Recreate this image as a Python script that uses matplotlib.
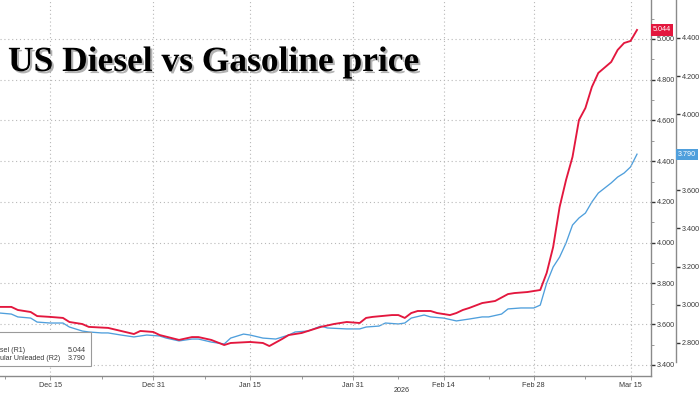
import matplotlib
matplotlib.use("Agg")
import matplotlib.pyplot as plt
import matplotlib.dates as mdates
import matplotlib.patheffects as pe
from matplotlib.patches import Rectangle
from matplotlib.ticker import FixedLocator, FuncFormatter, MultipleLocator
import numpy as np
import pandas as pd

# ---------------- data ----------------
diesel_dates = ["2025-12-07", "2025-12-09", "2025-12-10", "2025-12-12", "2025-12-13", "2025-12-15",
                "2025-12-17", "2025-12-18", "2025-12-20", "2025-12-21", "2025-12-24", "2025-12-26",
                "2025-12-28", "2025-12-29", "2025-12-31", "2026-01-01", "2026-01-04", "2026-01-06",
                "2026-01-07", "2026-01-09", "2026-01-11", "2026-01-12", "2026-01-15", "2026-01-17",
                "2026-01-18", "2026-01-20", "2026-01-21", "2026-01-23", "2026-01-24", "2026-01-26",
                "2026-01-28", "2026-01-30", "2026-02-01", "2026-02-02", "2026-02-03", "2026-02-06",
                "2026-02-07", "2026-02-08", "2026-02-09", "2026-02-10", "2026-02-12", "2026-02-13",
                "2026-02-15", "2026-02-16", "2026-02-17", "2026-02-18", "2026-02-20", "2026-02-22",
                "2026-02-24", "2026-02-25", "2026-02-27", "2026-03-01", "2026-03-02", "2026-03-03",
                "2026-03-04", "2026-03-05", "2026-03-06", "2026-03-07", "2026-03-08", "2026-03-09",
                "2026-03-10", "2026-03-12", "2026-03-13", "2026-03-14", "2026-03-15", "2026-03-16"]
diesel_values = [3.685, 3.685, 3.670, 3.660, 3.640, 3.636,
                 3.631, 3.611, 3.601, 3.587, 3.582, 3.567,
                 3.552, 3.567, 3.562, 3.547, 3.523, 3.537,
                 3.537, 3.523, 3.498, 3.508, 3.513, 3.508,
                 3.493, 3.528, 3.547, 3.557, 3.567, 3.587,
                 3.601, 3.611, 3.606, 3.631, 3.636, 3.645,
                 3.645, 3.631, 3.655, 3.665, 3.665, 3.655,
                 3.645, 3.655, 3.670, 3.680, 3.704, 3.714,
                 3.748, 3.753, 3.758, 3.768, 3.852, 3.979,
                 4.175, 4.308, 4.421, 4.602, 4.661, 4.764,
                 4.833, 4.887, 4.946, 4.980, 4.990, 5.044]

gas_dates = ["2025-12-07", "2025-12-09", "2025-12-10", "2025-12-12", "2025-12-13", "2025-12-15",
             "2025-12-17", "2025-12-18", "2025-12-20", "2025-12-21", "2025-12-23", "2025-12-24",
             "2025-12-26", "2025-12-28", "2025-12-30", "2026-01-01", "2026-01-02", "2026-01-04",
             "2026-01-06", "2026-01-07", "2026-01-09", "2026-01-11", "2026-01-12", "2026-01-14",
             "2026-01-15", "2026-01-17", "2026-01-19", "2026-01-21", "2026-01-22", "2026-01-24",
             "2026-01-26", "2026-01-27", "2026-01-30", "2026-02-01", "2026-02-02", "2026-02-04",
             "2026-02-05", "2026-02-07", "2026-02-08", "2026-02-09", "2026-02-11", "2026-02-12",
             "2026-02-14", "2026-02-16", "2026-02-18", "2026-02-20", "2026-02-21", "2026-02-23",
             "2026-02-24", "2026-02-26", "2026-02-28", "2026-03-01", "2026-03-02", "2026-03-03",
             "2026-03-04", "2026-03-05", "2026-03-06", "2026-03-07", "2026-03-08", "2026-03-09",
             "2026-03-10", "2026-03-12", "2026-03-13", "2026-03-14", "2026-03-15", "2026-03-16"]
gas_values = [2.957, 2.951, 2.936, 2.930, 2.909, 2.904,
              2.904, 2.883, 2.862, 2.857, 2.852, 2.852,
              2.841, 2.831, 2.841, 2.836, 2.825, 2.810,
              2.820, 2.820, 2.804, 2.794, 2.825, 2.846,
              2.841, 2.825, 2.820, 2.841, 2.857, 2.862,
              2.888, 2.878, 2.873, 2.873, 2.883, 2.888,
              2.904, 2.899, 2.904, 2.930, 2.946, 2.936,
              2.930, 2.915, 2.925, 2.936, 2.936, 2.951,
              2.978, 2.983, 2.983, 2.998, 3.114, 3.198,
              3.250, 3.324, 3.418, 3.455, 3.481, 3.539,
              3.586, 3.639, 3.670, 3.691, 3.723, 3.790]

x_major = ["2025-12-15", "2025-12-31", "2026-01-15", "2026-01-31", "2026-02-14", "2026-02-28", "2026-03-15"]
x_minor = ["2025-12-08", "2025-12-23", "2026-01-08", "2026-01-23", "2026-02-07", "2026-02-21", "2026-03-08"]
r1_ticks = [3.4, 3.6, 3.8, 4.0, 4.2, 4.4, 4.6, 4.8, 5.0]
r2_ticks = [2.8, 3.0, 3.2, 3.4, 3.6, 3.8, 4.0, 4.2, 4.4]
r2_hidden_label = 3.8   # covered by the last-value tag in the reference
diesel_label = "Diesel (R1)"
gas_label = "Regular Unleaded (R2)"
title = "US Diesel vs Gasoline price"
year_label = "2026"

# ---------------- style ----------------
RED = "#e3173e"
BLUE = "#4f9fdc"
GRID = "#b8b8b8"
SPINE = "#8a8a8a"
TXT = "#3a3a3a"
SF = "Liberation Sans"
FS = 5.2
LFS = 5.1

W, H = 700, 394
fig = plt.figure(figsize=(W / 100, H / 100), dpi=100)
fig.patch.set_facecolor("white")

ax = fig.add_axes([0.0, 18 / H, 651 / W, 376 / H])
ax2 = ax.twinx()

d_dates = pd.to_datetime(diesel_dates)
g_dates = pd.to_datetime(gas_dates)

ax2.plot(g_dates, gas_values, color=BLUE, lw=0.95, zorder=3)
ax.plot(d_dates, diesel_values, color=RED, lw=1.35, zorder=4)
ax.set_zorder(ax2.get_zorder() + 1)
ax.patch.set_visible(False)

jan15 = mdates.date2num(pd.Timestamp("2026-01-15"))
ax.set_xlim(jan15 - 38.76, jan15 + 62.17)
ax.set_ylim(3.346, 5.191)
ax2.set_ylim(2.626, 4.599)

# x axis
ax.xaxis.set_major_locator(FixedLocator(mdates.date2num(pd.to_datetime(x_major))))
ax.xaxis.set_minor_locator(FixedLocator(mdates.date2num(pd.to_datetime(x_minor))))
ax.xaxis.set_major_formatter(mdates.DateFormatter("%b %d"))
ax.tick_params(axis="x", which="major", length=3, width=0.6, color=SPINE,
               labelsize=FS, labelcolor=TXT, pad=1.5)
ax.tick_params(axis="x", which="minor", length=2.5, width=0.6, color=SPINE)

# y axes
fmt1 = FuncFormatter(lambda v, p: f"{v:.3f}")
fmt2 = FuncFormatter(lambda v, p: "" if abs(v - r2_hidden_label) < 1e-6 else f"{v:.3f}")
ax.yaxis.tick_right()
ax.yaxis.set_label_position("right")
ax.yaxis.set_major_locator(FixedLocator(r1_ticks))
ax.yaxis.set_minor_locator(MultipleLocator(0.1))
ax.yaxis.set_major_formatter(fmt1)
ax.tick_params(axis="y", which="major", length=3, width=1.0, color="#333333",
               labelsize=FS, labelcolor=TXT, pad=1)
ax.tick_params(axis="y", which="minor", length=2, width=0.6, color=SPINE)

ax2.yaxis.set_major_locator(FixedLocator(r2_ticks))
ax2.yaxis.set_major_formatter(fmt2)
ax2.tick_params(axis="y", which="major", length=3, width=1.0, color="#333333",
                labelsize=FS, labelcolor=TXT, pad=1)
ax2.spines["right"].set_position(("outward", 18))
ax2.spines["right"].set_bounds(2.70, 4.599)

for a in (ax, ax2):
    a.spines["left"].set_visible(False)
    a.spines["top"].set_visible(False)
    a.spines["right"].set_color(SPINE)
    a.spines["right"].set_linewidth(1.0)
    a.spines["bottom"].set_color(SPINE)
    a.spines["bottom"].set_linewidth(1.0)
    a.tick_params(axis="both", which="both", labelfontfamily=SF)
ax2.spines["bottom"].set_visible(False)

ax.grid(True, which="major", axis="both", color=GRID, linestyle=(0, (1, 2.5)), linewidth=0.8)
ax2.grid(False)

# last value tags
ax.text(1.0 + 2 / 651, diesel_values[-1], f"{diesel_values[-1]:.3f}",
        transform=ax.get_yaxis_transform(), ha="left", va="center",
        fontsize=FS, family=SF, color="white",
        bbox=dict(boxstyle="square,pad=0.3", fc=RED, ec="none"), zorder=10, clip_on=False)
ax2.text(1.0 + 27 / 651, gas_values[-1], f"{gas_values[-1]:.3f}",
         transform=ax2.get_yaxis_transform(), ha="left", va="center",
         fontsize=FS, family=SF, color="white",
         bbox=dict(boxstyle="square,pad=0.3", fc=BLUE, ec="none"), zorder=10, clip_on=False)

# year label
fig.text(402 / W, 1 - 391 / H, year_label, ha="center", va="center", fontsize=FS,
         family=SF, color=TXT)

# legend box (partly off the left edge, as in the reference)
fig.add_artist(Rectangle((-8 / W, 1 - 366 / H), 99 / W, 34 / H, transform=fig.transFigure,
                         fc="white", ec="#9a9a9a", lw=0.8, zorder=20))
fig.text(-11 / W, 1 - 350 / H, diesel_label, ha="left", va="center", fontsize=LFS,
         family=SF, color=TXT, zorder=21)
fig.text(86 / W, 1 - 350 / H, f"{diesel_values[-1]:.3f}", ha="right", va="center",
         fontsize=LFS, family=SF, color=TXT, zorder=21)
fig.text(-13 / W, 1 - 359 / H, gas_label, ha="left", va="center", fontsize=LFS,
         family=SF, color=TXT, zorder=21)
fig.text(86 / W, 1 - 359 / H, f"{gas_values[-1]:.3f}", ha="right", va="center",
         fontsize=LFS, family=SF, color=TXT, zorder=21)

# title with shadow
fig.text(8 / W, 1 - 71 / H, title, ha="left", va="baseline", fontsize=25.5,
         family="Liberation Serif", fontweight="bold", color="black", zorder=30,
         path_effects=[pe.withSimplePatchShadow(offset=(1.5, -1.5), shadow_rgbFace="#555555", alpha=0.45)])

fig.savefig("out.png", dpi=100)
